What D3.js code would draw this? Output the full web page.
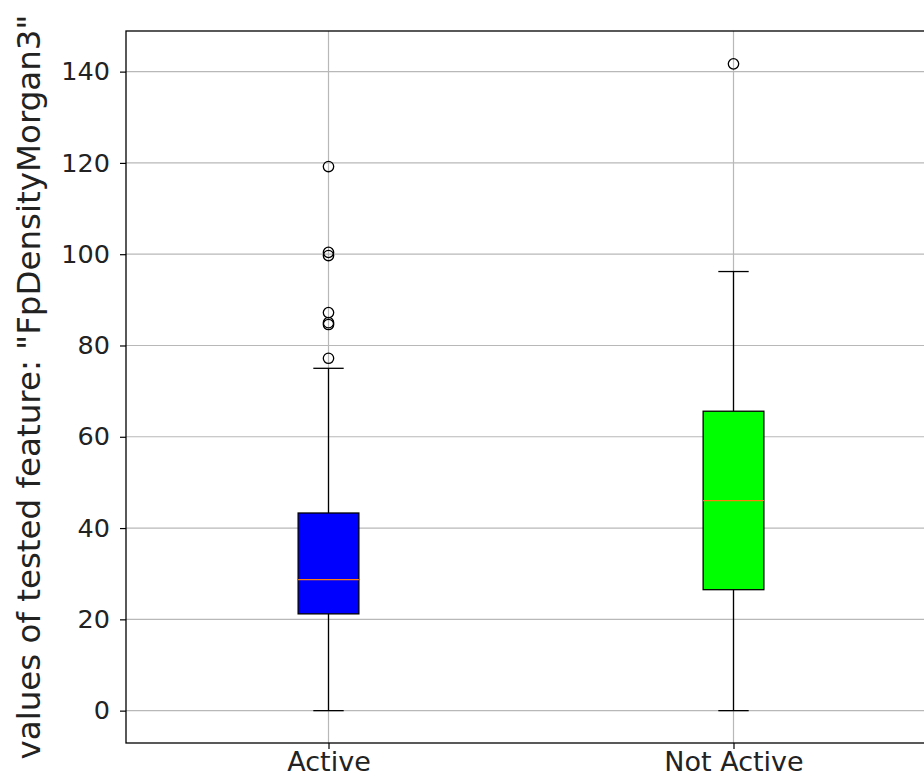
<!DOCTYPE html>
<html>
<head>
<meta charset="utf-8">
<style>
  body { margin: 0; background: #fff; }
  svg { display: block; font-family: "DejaVu Sans", sans-serif; }
</style>
<script src="https://cdn.jsdelivr.net/npm/d3@7"></script>
</head>
<body>
<script>
// box summary
var categories = ["Active", "Not Active"];
var boxColors = ["#0000ff", "#00ff00"];
var whiskerLow = [0, 0];
var q1 = [21.2, 26.5];
var medians = [28.7, 46.0];
var q3 = [43.3, 65.6];
var whiskerHigh = [75.0, 96.2];
var outliers = [
  [77.2, 84.6, 85.0, 87.2, 99.7, 100.4, 119.2],
  [141.7]
];
var yTicks = [0, 20, 40, 60, 80, 100, 120, 140];
var yLabel = 'values of tested feature: "FpDensityMorgan3"';

var W = 924, H = 778;
var plotL = 126, plotR = 936, plotT = 31, plotB = 743;

var svg = d3.select("body").append("svg")
  .attr("width", W).attr("height", H);

var x = d3.scaleLinear().domain([0.5, 2.5]).range([plotL, plotR]);
var y = d3.scaleLinear().domain([-7.09, 148.9]).range([plotB, plotT]);

var boxW = x(1.15) - x(1); // box width (0.15 in data units)
var capW = boxW / 2;

// grid
var grid = svg.append("g").attr("stroke", "#b8b8b8").attr("stroke-width", 1.2);
grid.selectAll("line.gy").data(yTicks).enter().append("line")
  .attr("x1", plotL).attr("x2", plotR)
  .attr("y1", function(d) { return y(d); }).attr("y2", function(d) { return y(d); });
grid.selectAll("line.gx").data(categories).enter().append("line")
  .attr("x1", function(d, i) { return x(i + 1); }).attr("x2", function(d, i) { return x(i + 1); })
  .attr("y1", plotT).attr("y2", plotB);

// axes
var yAxis = d3.axisLeft(y).tickValues(yTicks).tickSize(6).tickPadding(10);
var gy = svg.append("g").attr("transform", "translate(" + plotL + ",0)").call(yAxis);
gy.select(".domain").remove();
gy.selectAll("text").attr("font-size", 25.5).attr("fill", "#222").attr("font-family", "DejaVu Sans");

var xAxis = d3.axisBottom(x).tickValues([1, 2])
  .tickFormat(function(d) { return categories[d - 1]; })
  .tickSize(6).tickPadding(3);
var gx = svg.append("g").attr("transform", "translate(0," + plotB + ")").call(xAxis);
gx.select(".domain").remove();
gx.selectAll("text").attr("font-size", 27).attr("fill", "#222").attr("font-family", "DejaVu Sans");
svg.selectAll(".tick line").attr("stroke", "#000").attr("stroke-width", 1.2);

var idx = d3.range(categories.length);
var g = svg.append("g");

// whiskers
g.selectAll("line.wlo").data(idx).enter().append("line")
  .attr("x1", function(i) { return x(i + 1); }).attr("x2", function(i) { return x(i + 1); })
  .attr("y1", function(i) { return y(whiskerLow[i]); }).attr("y2", function(i) { return y(q1[i]); })
  .attr("stroke", "#000").attr("stroke-width", 1.3);
g.selectAll("line.whi").data(idx).enter().append("line")
  .attr("x1", function(i) { return x(i + 1); }).attr("x2", function(i) { return x(i + 1); })
  .attr("y1", function(i) { return y(q3[i]); }).attr("y2", function(i) { return y(whiskerHigh[i]); })
  .attr("stroke", "#000").attr("stroke-width", 1.3);

// caps
[whiskerLow, whiskerHigh].forEach(function(arr) {
  g.selectAll(null).data(idx).enter().append("line")
    .attr("x1", function(i) { return x(i + 1) - capW / 2; }).attr("x2", function(i) { return x(i + 1) + capW / 2; })
    .attr("y1", function(i) { return y(arr[i]); }).attr("y2", function(i) { return y(arr[i]); })
    .attr("stroke", "#000").attr("stroke-width", 1.3);
});

// boxes
g.selectAll("rect").data(idx).enter().append("rect")
  .attr("x", function(i) { return x(i + 1) - boxW / 2; })
  .attr("width", boxW)
  .attr("y", function(i) { return y(q3[i]); })
  .attr("height", function(i) { return y(q1[i]) - y(q3[i]); })
  .attr("fill", function(i) { return boxColors[i]; })
  .attr("stroke", "#000").attr("stroke-width", 1.3);

// medians
g.selectAll("line.med").data(idx).enter().append("line")
  .attr("x1", function(i) { return x(i + 1) - boxW / 2; }).attr("x2", function(i) { return x(i + 1) + boxW / 2; })
  .attr("y1", function(i) { return y(medians[i]); }).attr("y2", function(i) { return y(medians[i]); })
  .attr("stroke", "#ff7f0e").attr("stroke-width", 1.3);

// fliers
idx.forEach(function(i) {
  g.selectAll(null).data(outliers[i]).enter().append("circle")
    .attr("cx", x(i + 1)).attr("cy", function(d) { return y(d); })
    .attr("r", 5.2).attr("fill", "none")
    .attr("stroke", "#000").attr("stroke-width", 1.3);
});

// spines
svg.append("rect").attr("x", plotL).attr("y", plotT)
  .attr("width", plotR - plotL).attr("height", plotB - plotT)
  .attr("fill", "none").attr("stroke", "#000").attr("stroke-width", 1.3);

// y label
svg.append("text")
  .attr("transform", "translate(40," + (plotT + plotB) / 2 + ") rotate(-90)")
  .attr("text-anchor", "middle")
  .attr("font-size", 32.5).attr("fill", "#222")
  .text(yLabel);
</script>
</body>
</html>
